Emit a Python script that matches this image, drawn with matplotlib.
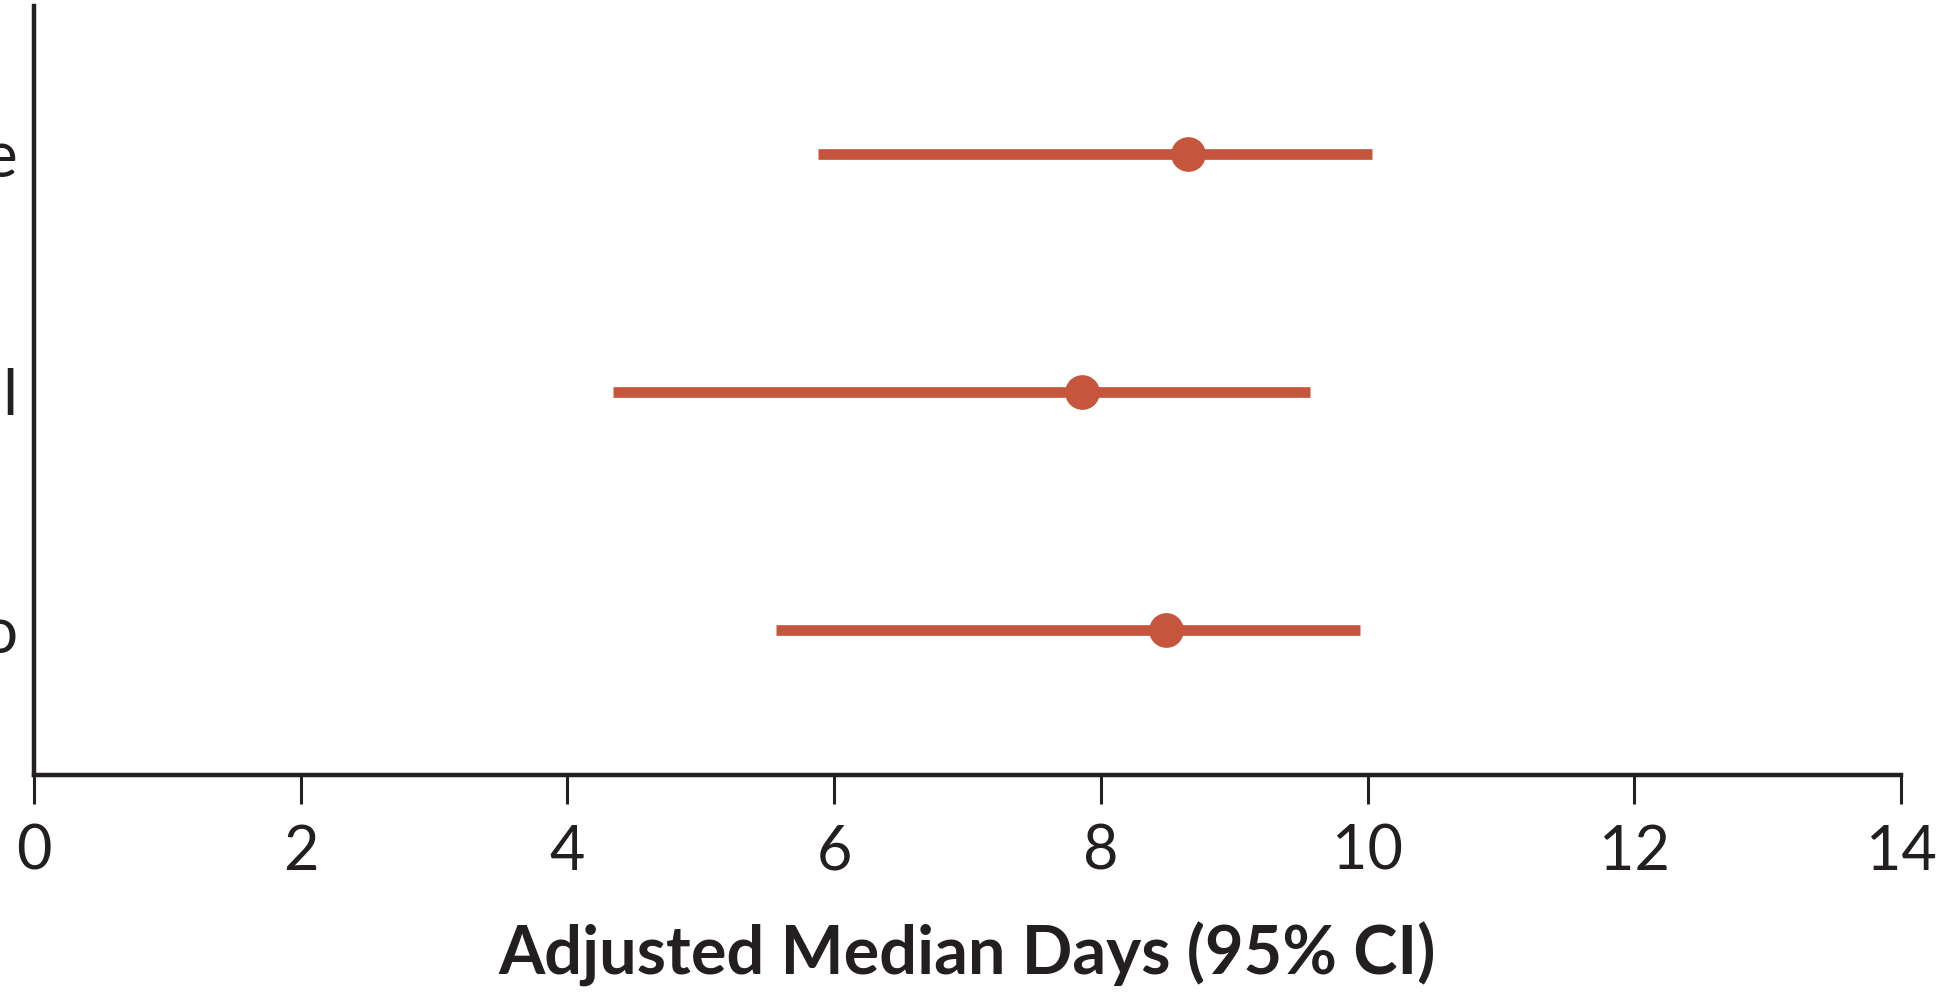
import matplotlib
matplotlib.use('Agg')
import matplotlib.pyplot as plt

# labels are cut off at the left edge in the reference, only last letters show
labels = ['e', 'l', 'o']
medians = [8.65, 7.86, 8.49]
ci_low = [5.88, 4.34, 5.56]
ci_high = [10.03, 9.57, 9.94]
xticks = [0, 2, 4, 6, 8, 10, 12, 14]

red = '#C5563D'
dark = '#231F20'
plt.rcParams['font.family'] = ['Lato', 'DejaVu Sans']

fig = plt.figure(figsize=(19.57, 10), dpi=100)
ax = fig.add_axes([0.0174, 0.225, 0.954, 0.769])

ypos = [3, 2, 1]
for y, m, lo, hi in zip(ypos, medians, ci_low, ci_high):
    ax.plot([lo, hi], [y, y], color=red, lw=7.7, solid_capstyle='butt', zorder=2)
    ax.plot(m, y, 'o', color=red, markersize=25, markeredgewidth=0, zorder=3)

ax.set_xlim(0, 14)
ax.set_ylim(0.39, 3.62)
ax.set_xticks(xticks)
ax.set_xticklabels([str(t) for t in xticks], fontsize=44, color=dark)
ax.set_yticks(ypos)
ax.set_yticklabels(labels, fontsize=46, color=dark)
ax.tick_params(axis='x', length=21, width=2.2, color=dark, pad=14)
ax.tick_params(axis='y', length=0, pad=12)

for s in ['top', 'right']:
    ax.spines[s].set_visible(False)
for s in ['left', 'bottom']:
    ax.spines[s].set_linewidth(3.2)
    ax.spines[s].set_color(dark)

ax.set_xlabel('Adjusted Median Days (95% CI)', fontsize=48, fontweight='bold',
              color=dark, labelpad=30)

plt.savefig('out.png', dpi=100)
